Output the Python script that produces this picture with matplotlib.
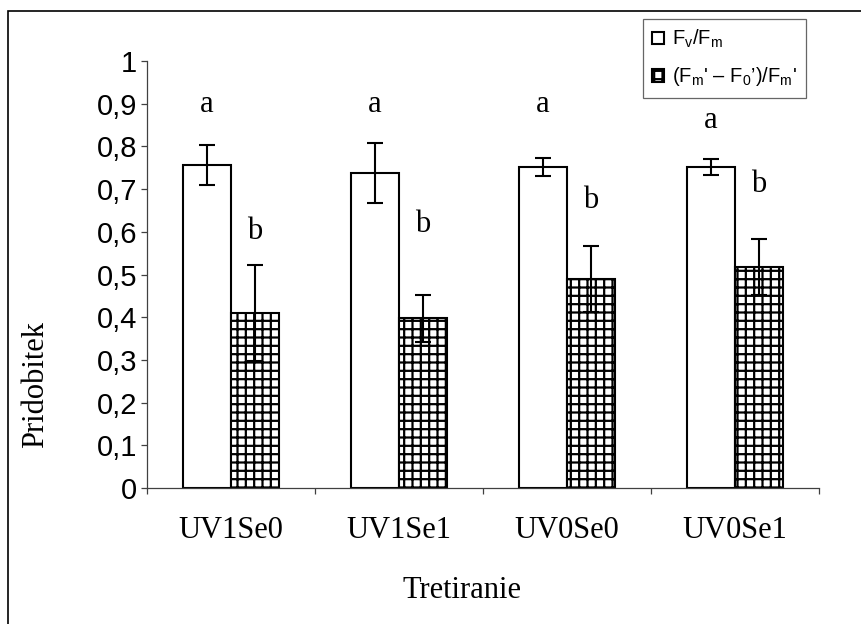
import matplotlib
matplotlib.use("Agg")
import matplotlib.pyplot as plt
from matplotlib.patches import Rectangle
import numpy as np

categories = ["UV1Se0", "UV1Se1", "UV0Se0", "UV0Se1"]
fvfm = [0.756, 0.738, 0.752, 0.752]
fvfm_err = [0.047, 0.071, 0.021, 0.018]
phi = [0.410, 0.397, 0.489, 0.518]
phi_err = [0.112, 0.055, 0.077, 0.066]
letters_fvfm = ["a", "a", "a", "a"]
letters_fvfm_y = [0.898, 0.898, 0.898, 0.86]
letters_phi = ["b", "b", "b", "b"]
letters_phi_y = [0.60, 0.616, 0.674, 0.71]
yticks = [0, 0.1, 0.2, 0.3, 0.4, 0.5, 0.6, 0.7, 0.8, 0.9, 1]
ytick_labels = ["0", "0,1", "0,2", "0,3", "0,4", "0,5", "0,6", "0,7", "0,8", "0,9", "1"]

plt.rcParams["mathtext.fontset"] = "custom"
plt.rcParams["mathtext.rm"] = "Liberation Sans"
plt.rcParams["mathtext.it"] = "Liberation Sans"
plt.rcParams["hatch.linewidth"] = 1.6

fig = plt.figure(figsize=(8.61, 6.24), dpi=100)
ax = fig.add_axes([147/861, 1-488/624, (819-147)/861, (488-61)/624])

x = np.arange(len(categories))
w = 0.286
ax.bar(x - w/2, fvfm, w, color="white", edgecolor="black", linewidth=1.5,
       label=r"F$_\mathregular{v}$/F$_\mathregular{m}$", zorder=2)
ax.bar(x + w/2, phi, w, color="white", edgecolor="black", linewidth=1.5, hatch="++",
       label=r"(F$_\mathregular{m}$' – F$_\mathregular{0}$’)/F$_\mathregular{m}$'", zorder=2)
ax.errorbar(x - w/2, fvfm, yerr=fvfm_err, fmt="none", ecolor="black", elinewidth=1.5,
            capsize=5.5, capthick=1.5, zorder=3)
ax.errorbar(x + w/2, phi, yerr=phi_err, fmt="none", ecolor="black", elinewidth=1.5,
            capsize=5.5, capthick=1.5, zorder=3)

for i in range(len(categories)):
    ax.text(x[i] - w/2, letters_fvfm_y[i], letters_fvfm[i], ha="center", va="center",
            family="Liberation Serif", fontsize=22)
    ax.text(x[i] + w/2, letters_phi_y[i], letters_phi[i], ha="center", va="center",
            family="Liberation Serif", fontsize=22)

ax.set_xlim(-0.5, 3.5)
ax.set_ylim(0, 1)
ax.set_yticks(yticks)
ax.set_yticklabels(ytick_labels, family="Liberation Sans", fontsize=21)
ax.set_xticks(np.arange(-0.5, 4, 1))
ax.set_xticklabels([])
ax.set_xticks(x, minor=True)
ax.set_xticklabels(categories, minor=True, family="Liberation Serif", fontsize=22)
ax.tick_params(axis="x", which="minor", length=0, pad=20)
ax.tick_params(axis="x", which="major", length=4, width=0.9, color="#404040", direction="out")
ax.tick_params(axis="y", length=4, width=0.9, color="#404040", direction="out", pad=3)
for s in ["top", "right"]:
    ax.spines[s].set_visible(False)
for s in ["left", "bottom"]:
    ax.spines[s].set_color("#404040")
    ax.spines[s].set_linewidth(0.9)

fig.text(462/861, 1-591/624, "Tretiranie", ha="center", va="center",
         family="Liberation Serif", fontsize=22)
fig.text(36/861, 1-385/624, "Pridobitek", ha="center", va="center", rotation=90,
         family="Liberation Serif", fontsize=22)

leg = fig.legend(loc="upper left", bbox_to_anchor=(643/861, 1-19/624),
                 prop={"family": "Liberation Sans", "size": 14.5},
                 handlelength=0.6, handleheight=0.6, handletextpad=0.4,
                 labelspacing=0.75, borderpad=0.45, frameon=True, fancybox=False,
                 borderaxespad=0)
leg.get_frame().set_edgecolor("#404040")
leg.get_frame().set_linewidth(0.9)

fig.patches.append(Rectangle((8/861, -0.1), 1.2, 1.1 - 11/624, transform=fig.transFigure,
                             fill=False, edgecolor="black", linewidth=1.2))

fig.savefig("out.png", dpi=100)
